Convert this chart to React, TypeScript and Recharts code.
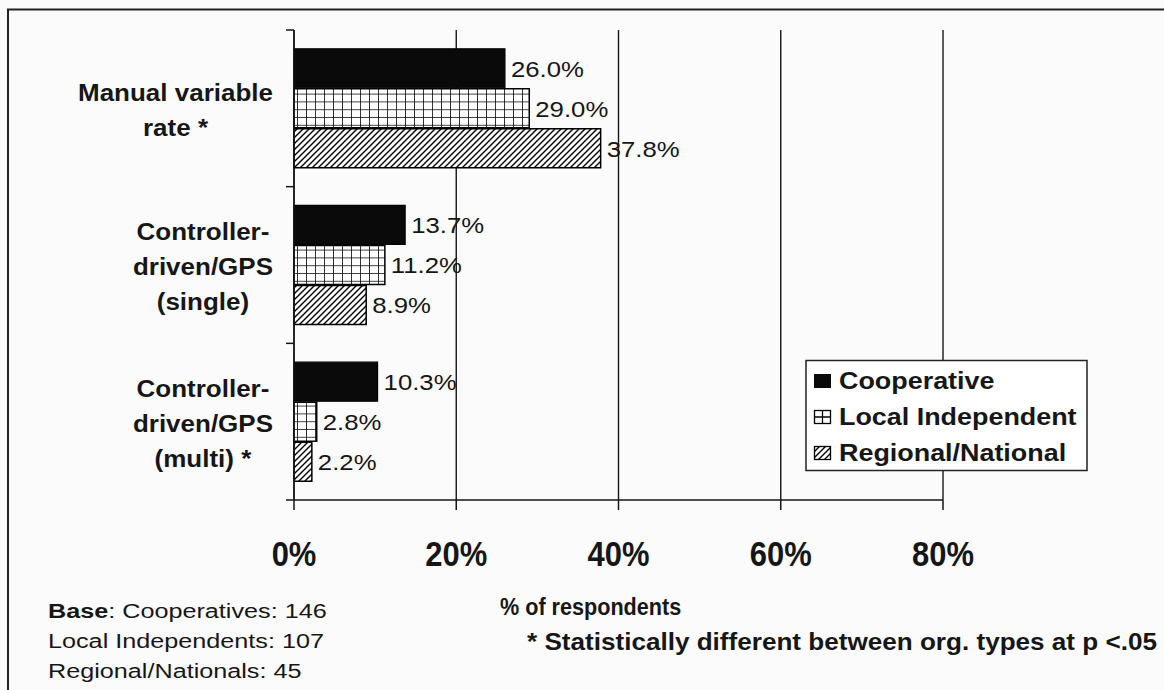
import React from 'react';
import { BarChart, Bar, XAxis, YAxis, CartesianGrid, LabelList } from 'recharts';

// ---------- data ----------
const categories = ['Manual variable\nrate *', 'Controller-\ndriven/GPS\n(single)', 'Controller-\ndriven/GPS\n(multi) *'];
const cooperative = [26.0, 13.7, 10.3];
const localIndependent = [29.0, 11.2, 2.8];
const regionalNational = [37.8, 8.9, 2.2];
const xTicks = [0, 20, 40, 60, 80];
const seriesNames = ['Cooperative', 'Local Independent', 'Regional/National'];
const axisTitle = '% of respondents';
const footnote = '* Statistically different between org. types at p <.05';
const baseLines = [
  ['Base', ': Cooperatives: 146'],
  ['', 'Local Independents: 107'],
  ['', 'Regional/Nationals: 45'],
];

const data = categories.map((c, i) => ({
  category: c,
  coop: cooperative[i],
  local: localIndependent[i],
  regional: regionalNational[i],
}));

// ---------- layout ----------
const W = 1164;
const H = 690;
const TOP = 30;
const AXIS_X = 294;
const RIGHT = 221;
const XAXIS_H = 190;
const PLOT_H = H - TOP - XAXIS_H;
const BAND = PLOT_H / categories.length;
const FONT = "'Liberation Sans', Arial, Helvetica, sans-serif";
const INK = '#161616';

let ctx: CanvasRenderingContext2D | null = null;
const measure = (t: string, font: string) => {
  if (!ctx) {
    const c = document.createElement('canvas');
    ctx = c.getContext('2d');
  }
  if (!ctx) return t.length * 12;
  ctx.font = font;
  return ctx.measureText(t).width;
};

const YTick = (props: any) => {
  const { y, payload } = props;
  const index = props.index ?? payload?.index ?? 0;
  const lines = String(payload.value).split('\n');
  const fs = 23;
  const lh = 35;
  const sx = 1.13;
  const widths = lines.map((l) => measure(l, `bold ${fs}px ${FONT}`) * sx);
  const maxW = Math.max(...widths);
  const cx = 273 - maxW / 2;
  const startY = y + 2 - ((lines.length - 1) * lh) / 2;
  const top = y - BAND / 2;
  const bottom = y + BAND / 2;
  return (
    <g>
      <line x1={AXIS_X - 8} x2={AXIS_X} y1={top} y2={top} stroke={INK} strokeWidth={1.5} />
      {index === categories.length - 1 && (
        <line x1={AXIS_X - 8} x2={AXIS_X} y1={bottom} y2={bottom} stroke={INK} strokeWidth={1.5} />
      )}
      {lines.map((l, i) => (
        <text
          key={i}
          transform={`translate(${cx},${startY + i * lh}) scale(${sx},1)`}
          textAnchor="middle"
          dy="0.36em"
          fontSize={fs}
          fontWeight="bold"
          fontFamily={FONT}
          fill={INK}
        >
          {l}
        </text>
      ))}
    </g>
  );
};

const XTick = (props: any) => {
  const { x, y, payload } = props;
  return (
    <text
      transform={`translate(${x},${y + 54}) scale(0.86,1)`}
      textAnchor="middle"
      fontSize={36}
      fontWeight="bold"
      fontFamily={FONT}
      fill={INK}
    >
      {payload.value}%
    </text>
  );
};

const ValueLabel = (props: any) => {
  const { x, y, width, height, value } = props;
  return (
    <text
      transform={`translate(${Number(x) + Number(width) + 6},${Number(y) + Number(height) / 2}) scale(1.12,1)`}
      dy="0.36em"
      fontSize={23}
      fontFamily={FONT}
      fill={INK}
    >
      {Number(value).toFixed(1)}%
    </text>
  );
};

const Patterns = () => (
  <defs>
    <pattern id="gridPat" patternUnits="userSpaceOnUse" width={9} height={7.8}>
      <rect width={9} height={7.8} fill="#fff" />
      <path d="M0,0 V7.8 M0,0 H9" stroke="#000" strokeWidth={1.6} />
    </pattern>
    <pattern id="hatchPat" patternUnits="userSpaceOnUse" width={6} height={6}>
      <rect width={6} height={6} fill="#fff" />
      <path d="M-1,1 L1,-1 M0,6 L6,0 M5,7 L7,5" stroke="#000" strokeWidth={1.4} />
    </pattern>
  </defs>
);

export default function App() {
  return (
    <div style={{ position: 'absolute', left: 0, top: 0, width: W, height: H, background: '#fbfbfb', overflow: 'hidden' }}>
      <svg width={0} height={0} style={{ position: 'absolute' }}>
        <Patterns />
      </svg>
      <BarChart
        width={W}
        height={H}
        data={data}
        layout="vertical"
        margin={{ top: TOP, right: RIGHT, bottom: 0, left: 0 }}
        barCategoryGap="12%"
        barGap={1}
      >
        <CartesianGrid horizontal={false} vertical stroke={INK} strokeWidth={1.4} />
        <XAxis
          type="number"
          domain={[0, 80]}
          ticks={xTicks}
          interval={0}
          height={XAXIS_H}
          tickSize={10}
          tickLine={{ stroke: INK, strokeWidth: 1.5 }}
          axisLine={{ stroke: INK, strokeWidth: 1.5 }}
          tick={<XTick />}
        />
        <YAxis
          type="category"
          dataKey="category"
          width={AXIS_X}
          tickLine={false}
          axisLine={{ stroke: INK, strokeWidth: 1.5 }}
          tick={<YTick />}
          interval={0}
        />
        <Bar dataKey="coop" name={seriesNames[0]} fill="#0a0a0a" stroke="#000" strokeWidth={1.2} isAnimationActive={false}>
          <LabelList dataKey="coop" content={<ValueLabel />} />
        </Bar>
        <Bar dataKey="local" name={seriesNames[1]} fill="url(#gridPat)" stroke="#000" strokeWidth={1.5} isAnimationActive={false}>
          <LabelList dataKey="local" content={<ValueLabel />} />
        </Bar>
        <Bar dataKey="regional" name={seriesNames[2]} fill="url(#hatchPat)" stroke="#000" strokeWidth={1.5} isAnimationActive={false}>
          <LabelList dataKey="regional" content={<ValueLabel />} />
        </Bar>
      </BarChart>
      <svg width={W} height={H} style={{ position: 'absolute', left: 0, top: 0, pointerEvents: 'none' }}>
        {/* frame */}
        <line x1={7} x2={W} y1={9.5} y2={9.5} stroke="#222" strokeWidth={2} />
        <line x1={8} x2={8} y1={9} y2={H} stroke="#222" strokeWidth={2} />
        {/* legend */}
        <rect x={806} y={360.5} width={281} height={110} fill="#fff" stroke="#222" strokeWidth={1.5} />
        <rect x={814} y={374} width={17} height={14} fill="#0a0a0a" />
        <rect x={814.5} y={410.5} width={16} height={13} fill="#fff" stroke="#000" strokeWidth={1.3} />
        <path d="M822.5,410.5 V423.5 M814.5,417 H830.5" stroke="#000" strokeWidth={1.3} />
        <rect x={814.5} y={446.5} width={16} height={13} fill="url(#hatchPat)" stroke="#000" strokeWidth={1.3} />
        {seriesNames.map((n, i) => (
          <text
            key={n}
            transform={`translate(839,${389 + i * 36}) scale(1.17,1)`}
            fontSize={23}
            fontWeight="bold"
            fontFamily={FONT}
            fill={INK}
          >
            {n}
          </text>
        ))}
        {/* axis title */}
        <text transform="translate(500,615) scale(0.9,1)" fontSize={24} fontWeight="bold" fontFamily={FONT} fill={INK}>
          {axisTitle}
        </text>
        <text x={527} y={650} fontSize={24} fontWeight="bold" fontFamily={FONT} fill={INK} textLength={630} lengthAdjust="spacingAndGlyphs">
          {footnote}
        </text>
        {/* base */}
        {baseLines.map((b, i) => (
          <text key={i} transform={`translate(48,${618 + i * 30}) scale(1.2,1)`} fontSize={21} fontFamily={FONT} fill={INK}>
            {b[0] && <tspan fontWeight="bold">{b[0]}</tspan>}
            <tspan>{b[1]}</tspan>
          </text>
        ))}
      </svg>
    </div>
  );
}
